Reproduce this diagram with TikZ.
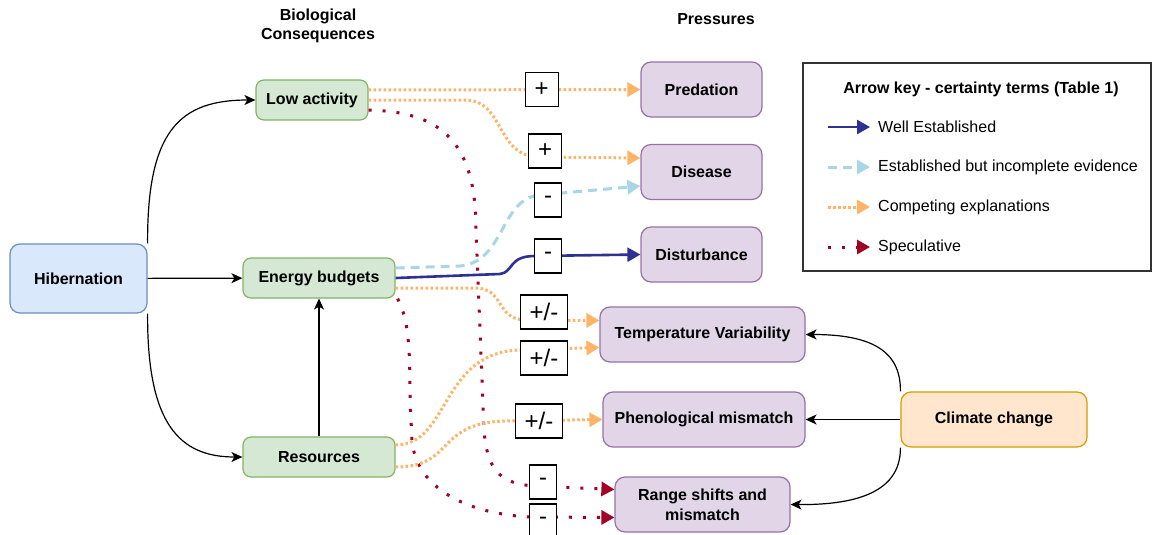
\documentclass[tikz,border=0pt]{standalone}
\usepackage{fontspec}
\setmainfont{Liberation Sans}
\usetikzlibrary{arrows.meta,positioning}

\definecolor{wellblue}{HTML}{2E3192}
\definecolor{partblue}{HTML}{A9D6E6}
\definecolor{compor}{HTML}{FFB366}
\definecolor{specred}{HTML}{A20025}

\tikzset{
  box/.style={draw, rounded corners=10pt, line width=1.2pt, align=center,
    font=\fontsize{16}{20}\selectfont\bfseries},
  hibbox/.style={box, fill={rgb,255:red,218;green,232;blue,252}, draw={rgb,255:red,108;green,142;blue,191}},
  bio/.style={box, rounded corners=8pt, fill={rgb,255:red,213;green,232;blue,212}, draw={rgb,255:red,130;green,179;blue,102}, minimum width=152pt, minimum height=40pt},
  press/.style={box, fill={rgb,255:red,225;green,213;blue,231}, draw={rgb,255:red,150;green,115;blue,166}, minimum width=121pt, minimum height=55pt},
  clim/.style={box, fill={rgb,255:red,255;green,230;blue,204}, draw={rgb,255:red,215;green,155;blue,0}, minimum width=186pt, minimum height=55pt},
  head/.style={align=center, font=\fontsize{16}{19}\selectfont\bfseries},
  sign/.style={draw=black, text=black, solid, fill=white, line width=1.2pt, inner xsep=9.5pt, inner ysep=0pt, minimum height=34pt, font=\fontsize{24}{24}\selectfont},
  keytext/.style={anchor=west, inner sep=0pt, font=\fontsize{16}{19}\selectfont},
  flow/.style={-{Stealth[length=11pt,width=10pt,inset=3pt]}, line width=1.2pt},
  well/.style={-{Triangle[length=13pt,width=14pt]}, wellblue, line width=2.6pt},
  partial/.style={-{Triangle[length=13pt,width=14pt]}, partblue, line width=3pt, dash pattern=on 9pt off 6pt},
  compete/.style={-{Triangle[length=13pt,width=14pt]}, compor, line width=3pt, dash pattern=on 2.5pt off 2.5pt},
  specul/.style={-{Triangle[length=13pt,width=14pt]}, specred, line width=3pt, dash pattern=on 3pt off 11pt}
}

\begin{document}
\begin{tikzpicture}[x=1pt, y=-1pt, node distance=82.5pt]
  \path[use as bounding box, fill=white] (0,0) rectangle (1153,535);

  \node[head] (hbio) at (318,26) {Biological\\Consequences};
  \node[head] (hpre) at (716,19) {Pressures};

  \node[hibbox, minimum width=137pt, minimum height=69pt] (hib) at (78.5,278.5) {Hibernation};
  \node[bio, minimum width=112pt] (low) at (312,100) {Low activity};
  \node[bio] (eb) at (319,278) {Energy budgets};
  \node[bio] (res) at (319,457) {Resources};

  \node[press] (pred) at (701.5,89.5) {Predation};
  \node[press, below of=pred] (dis) {Disease};
  \node[press, below of=dis] (dist) {Disturbance};
  \node[press, minimum width=205pt] (tv) at (702.5,334.5) {Temperature Variability};
  \node[press, minimum width=202pt, below of=tv, node distance=85pt, xshift=1.5pt] (phen) {Phenological mismatch};
  \node[press, minimum width=175pt] (rng) at (702.5,504.5) {Range shifts and\\mismatch};
  \node[clim] (cc) at (994,419.5) {Climate change};

  \draw[flow] (hib.north east) .. controls (147,130) and (180,100) .. (low.west);
  \draw[flow] (hib) -- (eb);
  \draw[flow] (hib.south east) .. controls (147,425) and (180,457) .. (res.west);
  \draw[flow] (res) -- (eb);
  \draw[flow] (cc.north west) .. controls (901,350) and (870,334.5) .. (tv.east);
  \draw[flow] (cc) -- (phen);
  \draw[flow] (cc.south west) .. controls (901,495) and (850,505) .. (rng.east);

  \draw[specul] ([yshift=-10pt]low.east) .. controls (440,112) and (476,140) .. (476,230) -- (484,430)
    .. controls (487,470) and (500,484) .. (535,486) -- ([yshift=15pt]rng.west) node[sign] (s8) at (543,482) {-};
  \draw[specul] ([xshift=2pt]eb.south east) .. controls (409,320) and (410,350) .. (410,400) -- (412,440)
    .. controls (416,490) and (470,514) .. (530,517) -- ([yshift=-13pt]rng.west) node[sign] (s9) at (543,521) {-};

  \draw[compete] ([yshift=10pt]low.east) -- node[sign, pos=.637] (s1) {+} (pred.west);
  \draw[compete] (low.east) -- (465,100) .. controls (505,100) and (495,157) .. (540,157)
    -- ([yshift=14pt]dis.west) node[sign] (s2) at (545,151) {+};
  \draw[partial] ([yshift=10pt]eb.east) -- (460,266) .. controls (505,262) and (500,198) .. (540,195)
    -- ([yshift=-14pt]dis.west) node[sign] (s3) at (548,200) {-};
  \draw[well] (eb.east) -- (500,274) .. controls (514,272) and (508,256) .. (535,256)
    -- (dist.west) node[sign] (s4) at (548,256) {-};
  \draw[compete] ([yshift=-10pt]eb.east) -- (475,288) .. controls (505,288) and (495,319) .. (525,320)
    -- ([yshift=14pt]tv.west) node[sign] (s5) at (544,312) {+/-};
  \draw[compete] ([yshift=12pt]res.east) .. controls (450,445) and (440,352) .. (520,350)
    -- ([yshift=-13pt]tv.west) node[sign] (s6) at (544,358) {+/-};
  \draw[compete] ([yshift=-10pt]res.east) .. controls (455,467) and (435,423) .. (505,421)
    -- (phen.west) node[sign] (s7) at (539,421) {+/-};

  % arrow key
  \node[draw=black!80, line width=1.2pt, minimum width=348pt, minimum height=208pt] (key) at (977,167) {};
  \node[head] (ktitle) at (981,89) {Arrow key - certainty terms (Table 1)};
  \node[keytext] (k1) at (878,127) {Well Established};
  \node[keytext] (k2) at (878,167) {Established but incomplete evidence};
  \node[keytext] (k3) at (878,207) {Competing explanations};
  \node[keytext] (k4) at (878,247) {Speculative};
  \draw[well] ([xshift=-50pt]k1.west) -- ([xshift=-8pt]k1.west);
  \draw[partial] ([xshift=-50pt]k2.west) -- ([xshift=-8pt]k2.west);
  \draw[compete] ([xshift=-50pt]k3.west) -- ([xshift=-8pt]k3.west);
  \draw[specul] ([xshift=-50pt]k4.west) -- ([xshift=-8pt]k4.west);
\end{tikzpicture}
\end{document}
